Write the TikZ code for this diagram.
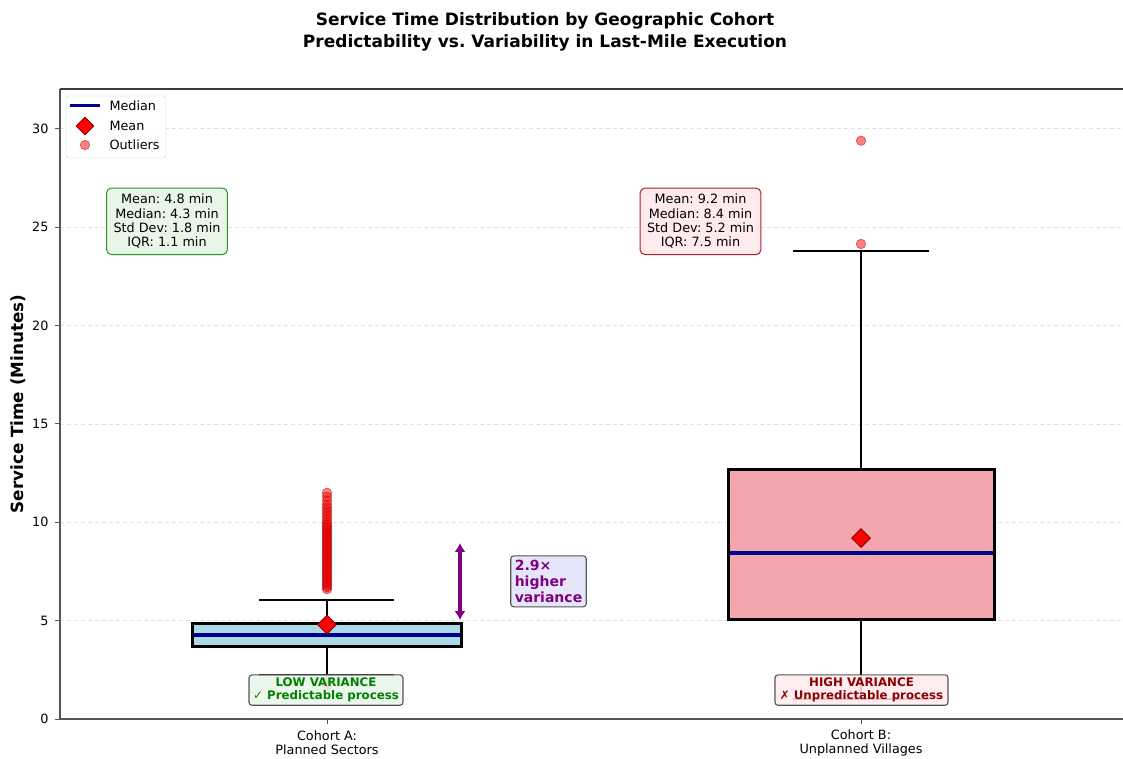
\documentclass[tikz,border=0pt]{standalone}
\usepackage{fontspec}
\setmainfont{DejaVu Sans}
\frenchspacing
\usetikzlibrary{arrows.meta,shapes.geometric}
\definecolor{spinegray}{RGB}{85,85,85}
\definecolor{gridgray}{RGB}{225,225,225}
\definecolor{boxblue}{RGB}{173,216,230}
\definecolor{boxpink}{RGB}{243,166,173}
\definecolor{mednavy}{RGB}{0,0,140}
\definecolor{dkred}{RGB}{139,0,0}
\definecolor{lgreen}{RGB}{232,245,233}
\definecolor{bgreen}{RGB}{40,150,40}
\definecolor{tgreen}{RGB}{0,128,0}
\definecolor{lpink}{RGB}{255,235,238}
\definecolor{bred}{RGB}{180,30,40}
\definecolor{lav}{RGB}{230,230,250}
\definecolor{purp}{RGB}{128,0,128}
\tikzset{
  boxstyle/.style={line width=3pt},
  whisk/.style={line width=2pt, black},
  medline/.style={line width=3.2pt, mednavy},
  outl/.style={fill=red, fill opacity=0.5, draw=dkred, draw opacity=0.5, line width=0.6pt},
  meanmark/.style={diamond, fill=red, draw=dkred, line width=0.9pt, minimum size=19pt, inner sep=0pt},
  statbox/.style={rounded corners=5pt, line width=1pt, align=center, inner xsep=7pt, inner ysep=6pt,
                  font=\fontsize{12.8}{14.4}\selectfont},
  varlabel/.style={rounded corners=3pt, draw=spinegray, line width=1.1pt, fill opacity=0.85, text opacity=1,
                   align=center, inner sep=3pt, font=\bfseries\fontsize{11.8}{13.2}\selectfont},
  ticklab/.style={font=\fontsize{12.8}{14.4}\selectfont},
}
\begin{document}
\begin{tikzpicture}[x=1pt,y=1pt]
\useasboundingbox[fill=white] (0,0) rectangle (1123,758);
% title
\node[font=\bfseries\fontsize{17}{21}\selectfont] (t1) at (545,737) {Service Time Distribution by Geographic Cohort};
\node[font=\bfseries\fontsize{17}{21}\selectfont] (t2) at (545,715) {Predictability vs. Variability in Last-Mile Execution};
% y label
\node[font=\bfseries\fontsize{16.8}{19}\selectfont, rotate=90] (ylab) at (18,354) {Service Time (Minutes)};
\begin{scope}[yshift=39pt, y=19.67pt]
  % grid
  \foreach \v in {5,10,...,30} {
    \draw[gridgray, line width=0.8pt, dash pattern=on 4pt off 3pt] (60,\v) -- (1123,\v);
    \draw[spinegray, line width=1pt] (55,\v) -- (60,\v);
    \node[ticklab, anchor=east] (yt\v) at (52,\v) {\v};
  }
  \draw[spinegray, line width=1pt] (55,0) -- (60,0);
  \node[ticklab, anchor=east] (yt0) at (52,0) {0};
  % x ticks
  \draw[spinegray, line width=1pt] (327,0) -- (327,-0.25);
  \draw[spinegray, line width=1pt] (861,0) -- (861,-0.25);
  % ---- Cohort A ----
  \draw[whisk] (327,3.71) -- (327,2.24);
  \draw[whisk] (259,2.24) -- (394,2.24);
  \draw[whisk] (327,4.88) -- (327,6.05);
  \draw[whisk] (259,6.05) -- (394,6.05);
  \draw[boxstyle, fill=boxblue] (192,3.71) rectangle (461,4.88);
  \draw[medline] (193.5,4.27) -- (459.5,4.27);
  \foreach \v in {6.6,6.7,...,9.9,10.0,10.15,10.3,10.45,10.6,10.75,10.9,11.1,11.3,11.5,1.9,1.7}
    \fill[outl] (327,\v) circle[radius=4.8pt];
  \node[meanmark] (meanA) at (327,4.8) {};
  % ---- Cohort B ----
  \draw[whisk] (861,5.08) -- (861,1.0);
  \draw[whisk] (793,1.0) -- (929,1.0);
  \draw[whisk] (861,12.66) -- (861,23.8);
  \draw[whisk] (793,23.8) -- (929,23.8);
  \draw[boxstyle, fill=boxpink] (728,5.08) rectangle (994,12.66);
  \draw[medline] (729.5,8.44) -- (992.5,8.44);
  \fill[outl] (861,24.15) circle[radius=4.8pt];
  \fill[outl] (861,29.4) circle[radius=4.8pt];
  \node[meanmark] (meanB) at (861,9.2) {};
  % variance arrow
  \coordinate (arrtop) at (460,8.95);
  \coordinate (arrbot) at (460,5.03);
  \draw[purp, line width=3.5pt, {Latex[length=9pt,width=11pt]}-{Latex[length=9pt,width=11pt]}] (arrbot) -- (arrtop);
  \node[rounded corners=3pt, draw=spinegray, fill=lav, line width=1.1pt, align=left, inner sep=4pt,
        text=purp, font=\bfseries\fontsize{14}{16.2}\selectfont] (ratio) at (548.5,7.0) {2.9×\\higher\\variance};
  % stat boxes
  \node[statbox, draw=bgreen, fill=lgreen] (statA) at (167,25.3) {Mean: 4.8 min\\Median: 4.3 min\\Std Dev: 1.8 min\\IQR: 1.1 min};
  \node[statbox, draw=bred, fill=lpink] (statB) at (700.5,25.3) {Mean: 9.2 min\\Median: 8.4 min\\Std Dev: 5.2 min\\IQR: 7.5 min};
  % variance labels
  \node[varlabel, fill=lgreen, text=tgreen, minimum width=154pt] (lowv) at (326,1.47) {LOW VARIANCE\\✓ Predictable process};
  \node[varlabel, fill=lpink, text=dkred, minimum width=173pt] (highv) at (861.5,1.47) {HIGH VARIANCE\\✗ Unpredictable process};
\end{scope}
% spines
\draw[spinegray, line width=1.6pt] (60,39) -- (60,669) ;
\draw[spinegray, line width=1.6pt] (60,39) -- (1123,39);
\draw[spinegray!70!black, line width=1.6pt] (60,669) -- (1123,669);
% x tick labels
\node[ticklab, align=center] (xa) at (327,15) {Cohort A:\\Planned Sectors};
\node[ticklab, align=center] (xb) at (861,15) {Cohort B:\\Unplanned Villages};
% legend
\node[draw=gray!40, rounded corners=3pt, fill=white, fill opacity=0.85, minimum width=100pt, minimum height=62pt, inner sep=0pt] (legbox) at (116,631) {};
\draw[mednavy, line width=3pt] (70,652) -- (100,652);
\node[diamond, fill=red, draw=dkred, line width=0.9pt, minimum size=18pt, inner sep=0pt] (legmean) at (85,632) {};
\fill[outl] (85,613) circle[radius=4.8pt];
\node[ticklab, anchor=west] (l1) at (106,652) {Median};
\node[ticklab, anchor=west] (l2) at (106,632) {Mean};
\node[ticklab, anchor=west] (l3) at (106,613) {Outliers};
\end{tikzpicture}
\end{document}
